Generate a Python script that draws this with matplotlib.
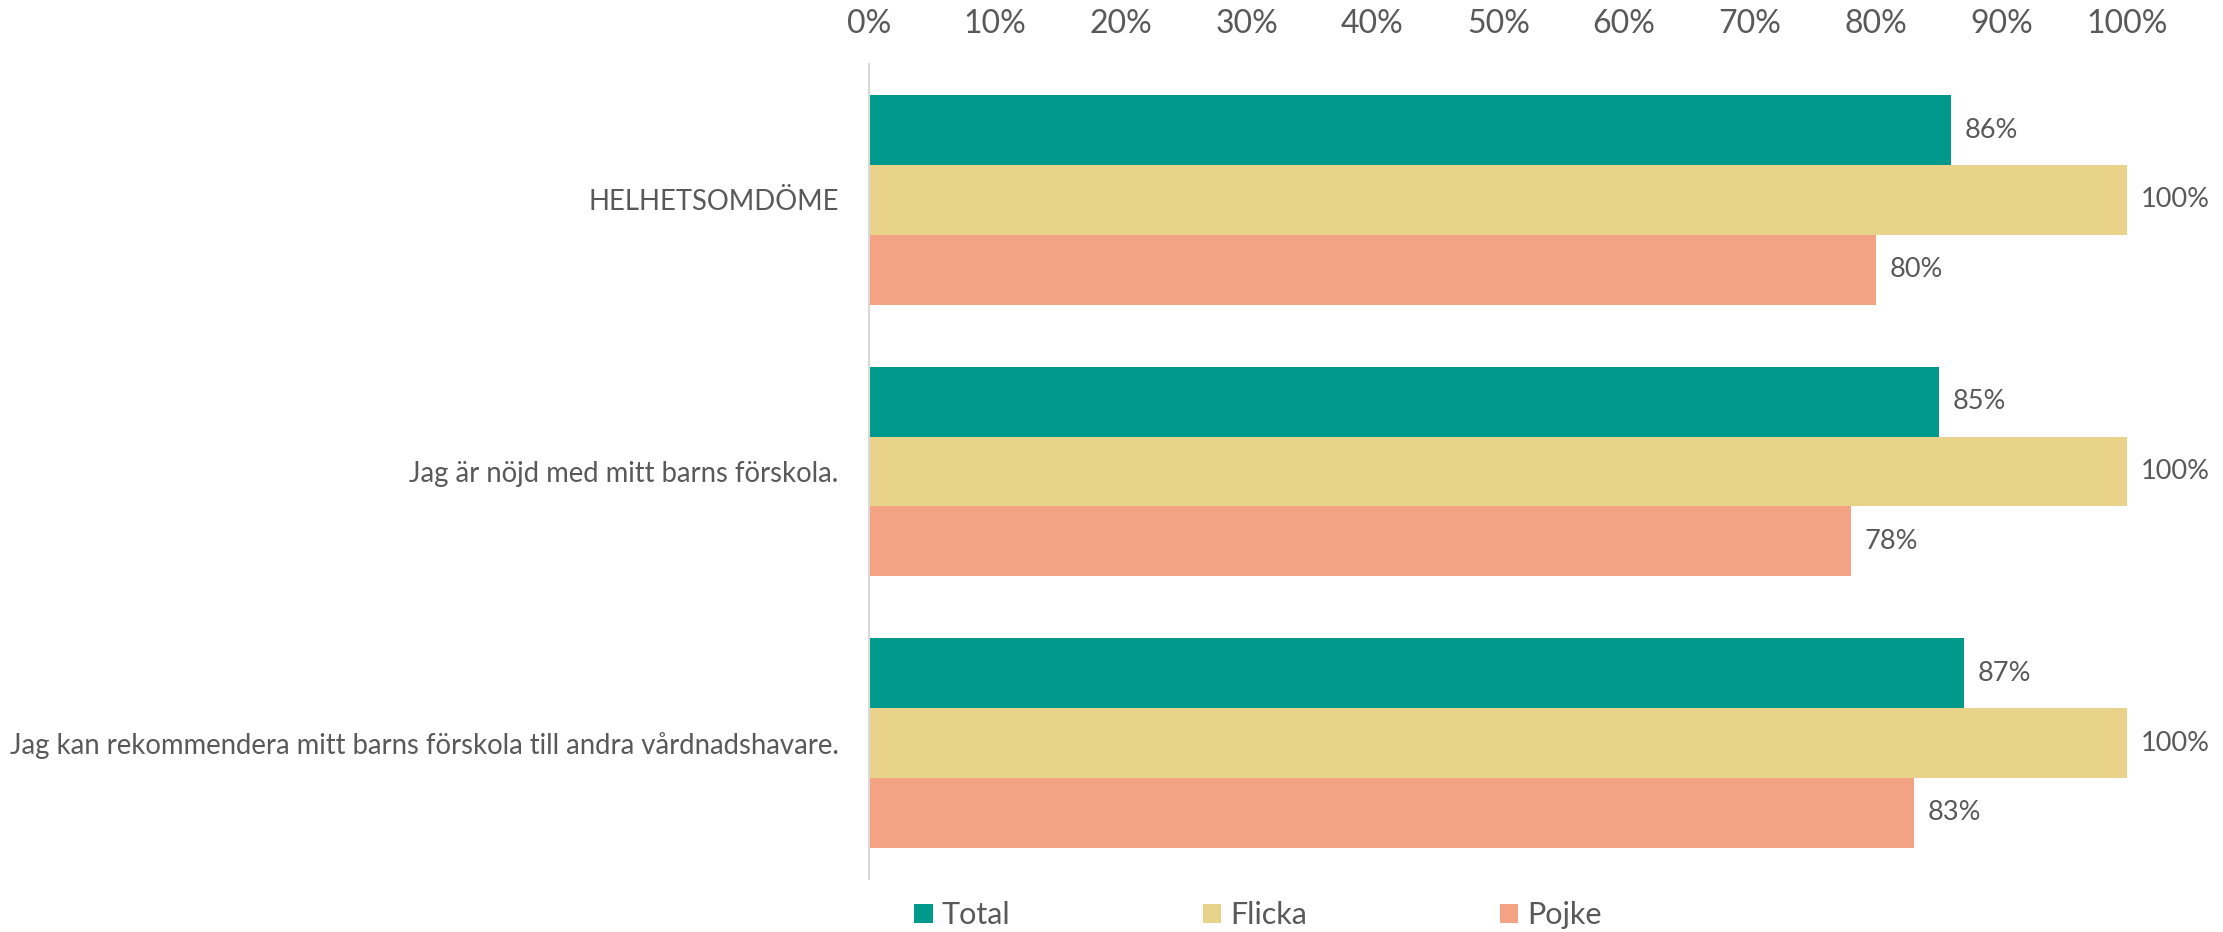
import numpy as np
import matplotlib.pyplot as plt
from matplotlib.ticker import PercentFormatter

# データ
categories = [
    "HELHETSOMDÖME",
    "Jag är nöjd med mitt barns förskola.",
    "Jag kan rekommendera mitt barns förskola till andra vårdnadshavare.",
]
series = ["Total", "Flicka", "Pojke"]
total = [0.86, 0.85, 0.87]
flicka = [1.00, 1.00, 1.00]
pojke = [0.80, 0.78, 0.83]

colors = ["#00998C", "#E9D28A", "#F3A384"]
text_color = "#595959"

plt.rcParams['font.family'] = ['Lato', 'DejaVu Sans']

fig = plt.figure(figsize=(22.23, 9.32), dpi=100)
ax = fig.add_axes([0.391, 0.0569, 0.566, 0.8744])

y = np.arange(len(categories))
h = 0.257
for i, (name, vals) in enumerate(zip(series, [total, flicka, pojke])):
    bars = ax.barh(y + (i - 1) * h, vals, height=h, color=colors[i], label=name)
    for b, v in zip(bars, vals):
        ax.text(b.get_width() + 0.011, b.get_y() + b.get_height() / 2,
                f"{v*100:.0f}%", va='center', ha='left', fontsize=19.5, color=text_color)

ax.set_xlim(0, 1)
ax.set_ylim(2.5, -0.5)
ax.set_xticks(np.arange(0, 1.01, 0.1))
ax.xaxis.set_major_formatter(PercentFormatter(1.0, decimals=0))
ax.xaxis.tick_top()
ax.tick_params(axis='x', length=0, labelsize=23, labelcolor=text_color, pad=18)
ax.set_yticks(y)
ax.set_yticklabels(categories)
ax.tick_params(axis='y', length=0, labelsize=19.8, labelcolor=text_color, pad=22)

for s in ['top', 'right', 'bottom']:
    ax.spines[s].set_visible(False)
ax.spines['left'].set_color('#D9D9D9')
ax.spines['left'].set_linewidth(1.5)

fig.legend(loc='center', bbox_to_anchor=(0.566, 0.018), ncol=3, frameon=False,
           fontsize=22, handlelength=0.6, handleheight=0.6, handletextpad=0.3,
           columnspacing=6.3, labelcolor=text_color)

fig.savefig("out.png", dpi=100)
